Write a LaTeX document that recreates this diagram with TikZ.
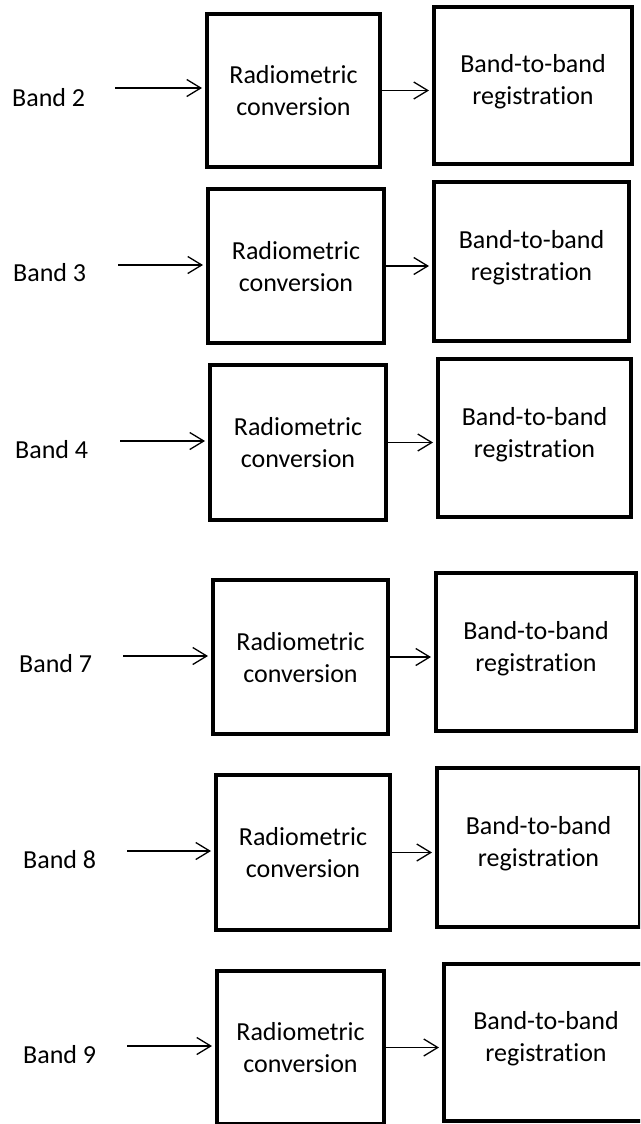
\documentclass[tikz,border=0pt]{standalone}
\usepackage{fontspec}
\setmainfont{Carlito}[Ligatures=CommonOff]
\usetikzlibrary{arrows.meta}
\tikzset{
  stagebox/.style={draw=black, line width=4pt, rectangle, inner sep=0pt, outer sep=0pt, fill=white},
  boxtext/.style={align=center, inner sep=0pt, font=\fontsize{26pt}{32pt}\selectfont, anchor=base},
  bandlabel/.style={inner sep=0pt, font=\fontsize{26pt}{32pt}\selectfont, anchor=base west},
  flow/.style={draw=black, line width=1.3pt, -{Straight Barb[length=14pt,width=17pt]}, shorten >=5pt}
}
\begin{document}
\begin{tikzpicture}[x=1pt, y=-1pt]
\useasboundingbox[fill=white] (0,0) rectangle (640,1124);
\clip (0,0) rectangle (640,1124);

% Text nodes are placed by the baseline of their second line.

% ---- Band 2 ----
\node[stagebox, minimum width=173pt, minimum height=153pt] (rc1) at (293.5,90.5) {};
\node[stagebox, minimum width=198pt, minimum height=157pt] (bb1) at (533,85.5) {};
\node[boxtext] (rct1) at (293.5,115.5) {Radiometric\\conversion};
\node[boxtext] (bbt1) at (533,104.5) {Band-to-band\\registration};
\node[bandlabel] (lb1) at (12,106) {Band 2};
\coordinate (in1) at (115,88);
\draw[flow] (in1) -- (in1 -| rc1.west);
\draw[flow] (rc1.east) -- (rc1.east -| bb1.west);

% ---- Band 3 ----
\node[stagebox, minimum width=176pt, minimum height=154pt] (rc2) at (296,266) {};
\node[stagebox, minimum width=195pt, minimum height=159pt] (bb2) at (531.5,261.5) {};
\node[boxtext] (rct2) at (296,291) {Radiometric\\conversion};
\node[boxtext] (bbt2) at (531.5,280.5) {Band-to-band\\registration};
\node[bandlabel] (lb2) at (13,281) {Band 3};
\coordinate (in2) at (118,265);
\draw[flow] (in2) -- (in2 -| rc2.west);
\draw[flow] (rc2.east) -- (rc2.east -| bb2.west);

% ---- Band 4 ----
\node[stagebox, minimum width=176pt, minimum height=155pt] (rc3) at (298,442.5) {};
\node[stagebox, minimum width=193pt, minimum height=158pt] (bb3) at (534.5,438) {};
\node[boxtext] (rct3) at (298,467.5) {Radiometric\\conversion};
\node[boxtext] (bbt3) at (534.5,457) {Band-to-band\\registration};
\node[bandlabel] (lb3) at (15,458) {Band 4};
\coordinate (in3) at (120,441);
\draw[flow] (in3) -- (in3 -| rc3.west);
\draw[flow] (rc3.east) -- (rc3.east -| bb3.west);

% ---- Band 7 ----
\node[stagebox, minimum width=175pt, minimum height=154pt] (rc4) at (300.5,657) {};
\node[stagebox, minimum width=200pt, minimum height=158pt] (bb4) at (536,652) {};
\node[boxtext] (rct4) at (300.5,682) {Radiometric\\conversion};
\node[boxtext] (bbt4) at (536,671) {Band-to-band\\registration};
\node[bandlabel] (lb4) at (19,672) {Band 7};
\coordinate (in4) at (123,656);
\draw[flow] (in4) -- (in4 -| rc4.west);
\draw[flow] (rc4.east) -- (rc4.east -| bb4.west);

% ---- Band 8 ----
\node[stagebox, minimum width=174pt, minimum height=155pt] (rc5) at (303,852.5) {};
\node[stagebox, minimum width=203pt, minimum height=159pt] (bb5) at (538.5,847.5) {};
\node[boxtext] (rct5) at (303,877.5) {Radiometric\\conversion};
\node[boxtext] (bbt5) at (538.5,866.5) {Band-to-band\\registration};
\node[bandlabel] (lb5) at (23,868) {Band 8};
\coordinate (in5) at (127,851);
\draw[flow] (in5) -- (in5 -| rc5.west);
\draw[flow] (rc5.east) -- (rc5.east -| bb5.west);

% ---- Band 9 ----
\node[stagebox, minimum width=167pt, minimum height=153pt] (rc6) at (300.5,1047.5) {};
\node[stagebox, minimum width=204pt, minimum height=157pt] (bb6) at (546,1042.5) {};
\node[boxtext] (rct6) at (300.5,1072.5) {Radiometric\\conversion};
\node[boxtext] (bbt6) at (546,1061.5) {Band-to-band\\registration};
\node[bandlabel] (lb6) at (23,1063) {Band 9};
\coordinate (in6) at (127,1046);
\draw[flow] (in6) -- (in6 -| rc6.west);
\draw[flow] (rc6.east) -- (rc6.east -| bb6.west);
\end{tikzpicture}
\end{document}
